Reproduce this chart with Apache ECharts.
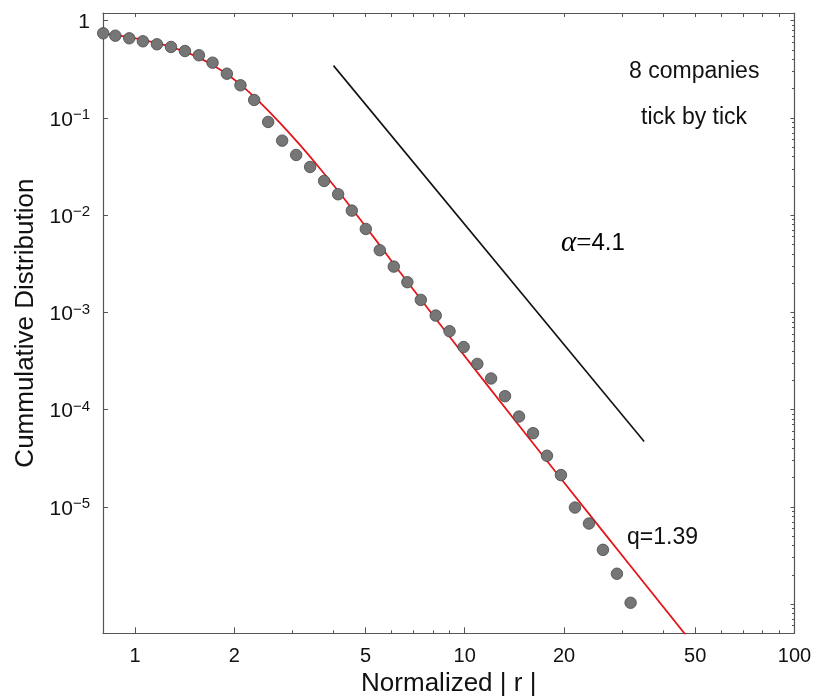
<!DOCTYPE html>
<html>
<head>
<meta charset="utf-8">
<title>Cummulative Distribution</title>
<script src="https://cdn.jsdelivr.net/npm/echarts@6/dist/echarts.min.js"></script>
<style>
  html, body { margin: 0; padding: 0; background: #fff; }
  #chart { width: 817px; height: 699px; }
</style>
</head>
<body>
<div id="chart"></div>
<script>
// Empirical cumulative distribution of normalized |r| (8 companies, tick by tick)
var rValues = [0.801, 0.872, 0.961, 1.057, 1.166, 1.286, 1.418, 1.563, 1.719, 1.900,
  2.089, 2.299, 2.535, 2.795, 3.083, 3.398, 3.746, 4.131, 4.546, 5.012,
  5.526, 6.094, 6.699, 7.359, 8.168, 8.994, 9.924, 10.92, 12.02, 13.25,
  14.61, 16.11, 17.76, 19.58, 21.59, 23.81, 26.25, 28.94, 31.84];
var cdfValues = [0.742, 0.701, 0.659, 0.614, 0.572, 0.537, 0.488, 0.441, 0.370, 0.285,
  0.2167, 0.153, 0.0909, 0.0584, 0.0416, 0.0313, 0.02248, 0.0164, 0.01113, 0.00721,
  0.004357, 0.002956, 0.002043, 0.001344, 0.000927, 0.000640, 0.000440, 0.000295, 0.000209, 0.0001374,
  8.48e-5, 5.72e-5, 3.35e-5, 2.12e-5, 9.83e-6, 6.73e-6, 3.61e-6, 2.05e-6, 1.03e-6];

// q-Gaussian fit (q = 1.39)
var fitX = [0.80, 0.968, 1.193, 1.421, 1.577, 1.751, 1.945, 2.159, 2.398, 2.756,
  3.169, 3.643, 4.189, 4.816, 5.537, 6.367, 9.025, 14.71, 25.70, 48.2];
var fitY = [0.742, 0.6742, 0.5767, 0.4773, 0.4097, 0.3381, 0.2665, 0.1999, 0.1437, 0.08843,
  0.05241, 0.03004, 0.01670, 0.009068, 0.004855, 0.002586, 0.0005551, 6.653e-5, 6.116e-6, 4.24e-7];

// power-law guide, exponent alpha = 4.1
var lawX = [4.0, 35.0];
var lawY = [0.345, 4.7e-5];

// axis ticks
var xMajorTicks = [1, 2, 5, 10, 20, 50, 100];
var xMinorTicks = [3, 4, 6, 7, 8, 9, 30, 40, 60, 70, 80, 90];
var xAllTicks = [1, 2, 3, 4, 5, 6, 7, 8, 9, 10, 20, 30, 40, 50, 60, 70, 80, 90, 100];
var yMajorTicks = [1, 1e-1, 1e-2, 1e-3, 1e-4, 1e-5, 1e-6];
var yLabelTicks = [1, 1e-1, 1e-2, 1e-3, 1e-4, 1e-5];
var yMinorTicks = [];
[1e-7, 1e-6, 1e-5, 1e-4, 1e-3, 1e-2, 1e-1].forEach(function (d) {
  for (var k = 2; k <= 9; k++) yMinorTicks.push(+(k * d).toPrecision(3));
});

function zip(a, b) { return a.map(function (v, i) { return [v, b[i]]; }); }

var FONT = 'Liberation Sans, Arial, sans-serif';
var SERIF = 'Liberation Serif, Times New Roman, serif';
var AXIS_COLOR = '#555';

function xAxisBase(extra) {
  var base = {
    type: 'log', logBase: 10, min: 0.8, max: 100, gridIndex: 0,
    splitLine: { show: false },
    axisLine: { show: false, lineStyle: { color: AXIS_COLOR } },
    axisLabel: { show: false },
    axisTick: { show: false },
    minorTick: { show: false }
  };
  return Object.assign(base, extra);
}
function yAxisBase(extra) {
  var base = {
    type: 'log', logBase: 10, min: 5e-7, max: 1.2, gridIndex: 0,
    splitLine: { show: false },
    axisLine: { show: false, lineStyle: { color: AXIS_COLOR } },
    axisLabel: { show: false },
    axisTick: { show: false },
    minorTick: { show: false }
  };
  return Object.assign(base, extra);
}

var chart = echarts.init(document.getElementById('chart'), null, { renderer: 'canvas' });

var option = {
  backgroundColor: '#fff',
  animation: false,
  grid: { left: 103, top: 13, right: 22.5, bottom: 65.7, containLabel: false, outerBoundsMode: 'none' },
  xAxis: [
    xAxisBase({
      position: 'bottom',
      name: 'Normalized | r |', nameLocation: 'middle', nameGap: 35,
      nameTextStyle: { fontFamily: FONT, fontSize: 26, color: '#111' },
      axisLine: { show: true, onZero: false, lineStyle: { color: AXIS_COLOR, width: 1.2 } },
      axisTick: { show: true, inside: true, length: 6, customValues: xMajorTicks, lineStyle: { color: AXIS_COLOR } },
      axisLabel: {
        show: true, margin: 13, customValues: xMajorTicks,
        fontFamily: FONT, fontSize: 20, color: '#111',
        formatter: function (v) { return String(+v.toPrecision(3)); }
      }
    }),
    xAxisBase({
      position: 'bottom',
      axisTick: { show: true, inside: true, length: 3, customValues: xMinorTicks, lineStyle: { color: AXIS_COLOR } }
    }),
    xAxisBase({
      position: 'top',
      axisLine: { show: true, onZero: false, lineStyle: { color: AXIS_COLOR, width: 1.2 } },
      axisTick: { show: true, inside: true, length: 4, customValues: xAllTicks, lineStyle: { color: AXIS_COLOR } }
    })
  ],
  yAxis: [
    yAxisBase({
      position: 'left',
      name: 'Cummulative Distribution', nameLocation: 'middle', nameGap: 64,
      nameTextStyle: { fontFamily: FONT, fontSize: 26, color: '#111' },
      axisLine: { show: true, onZero: false, lineStyle: { color: AXIS_COLOR, width: 1.2 } },
      axisTick: { show: true, inside: true, length: 5, customValues: yLabelTicks, lineStyle: { color: AXIS_COLOR } },
      axisLabel: {
        show: true, margin: 13, customValues: yLabelTicks,
        color: '#111', fontFamily: FONT,
        formatter: function (v) {
          var e = Math.round(Math.log10(v));
          if (e === 0) return '{b|1}';
          return '{b|10}{s|\u2212' + (-e) + '}';
        },
        rich: {
          b: { fontFamily: FONT, fontSize: 21, lineHeight: 21, padding: [4, 0, 0, 0], color: '#111' },
          s: { fontFamily: FONT, fontSize: 15, lineHeight: 15, verticalAlign: 'top', color: '#111' }
        }
      }
    }),
    yAxisBase({
      position: 'right',
      axisLine: { show: true, onZero: false, lineStyle: { color: AXIS_COLOR, width: 1.2 } },
      axisTick: { show: true, inside: true, length: 4, customValues: yMajorTicks, lineStyle: { color: AXIS_COLOR } }
    }),
    yAxisBase({
      position: 'right',
      axisTick: { show: true, inside: true, length: 2.5, customValues: yMinorTicks, lineStyle: { color: AXIS_COLOR } }
    })
  ],
  series: [
    {
      name: 'q-Gaussian', type: 'line', xAxisIndex: 0, yAxisIndex: 0,
      data: zip(fitX, fitY), smooth: 0.4, showSymbol: false, clip: true,
      lineStyle: { color: '#e3161b', width: 1.8 }, z: 3
    },
    {
      name: 'power law', type: 'line', xAxisIndex: 0, yAxisIndex: 0,
      data: zip(lawX, lawY), showSymbol: false,
      lineStyle: { color: '#111', width: 1.6 }, z: 2
    },
    {
      name: 'data', type: 'scatter', xAxisIndex: 0, yAxisIndex: 0,
      data: zip(rValues, cdfValues), symbol: 'circle', symbolSize: 11.5,
      itemStyle: { color: '#767676', borderColor: '#484848', borderWidth: 0.8, opacity: 1 }, z: 4
    }
  ],
  graphic: [
    { type: 'text', left: 629, top: 60, style: { text: '8 companies', font: '23px ' + FONT, fill: '#111' } },
    { type: 'text', left: 641, top: 106, style: { text: 'tick by tick', font: '23px ' + FONT, fill: '#111' } },
    { type: 'text', left: 561, top: 229, style: {
        text: '{g|\u03b1}{e|=}{n|4.1}',
        rich: {
          g: { fontFamily: SERIF, fontStyle: 'italic', fontSize: 29, color: '#111' },
          e: { fontFamily: SERIF, fontSize: 27, color: '#111' },
          n: { fontFamily: FONT, fontSize: 24, color: '#111' }
        }
      } },
    { type: 'text', left: 627, top: 526, style: { text: 'q=1.39', font: '23px ' + FONT, fill: '#111' } }
  ]
};

chart.setOption(option);
</script>
</body>
</html>
